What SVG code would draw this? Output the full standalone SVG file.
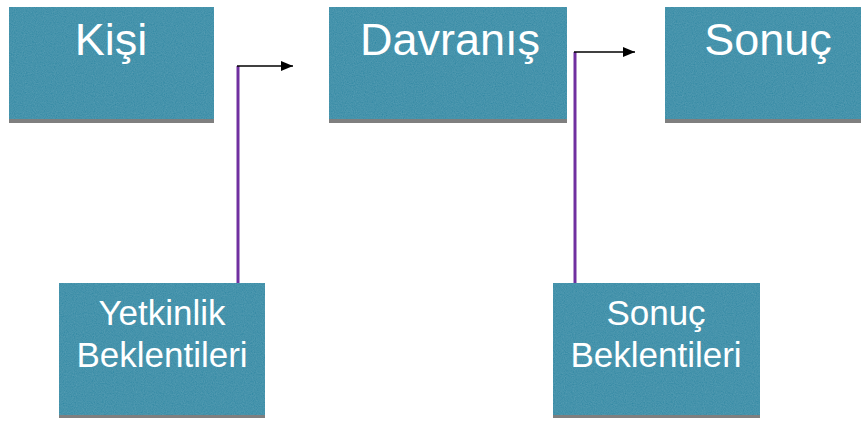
<svg xmlns="http://www.w3.org/2000/svg" width="861" height="421" viewBox="0 0 861 421">
<style>
.box{fill:#2f87a3;filter:url(#tex)}
.sh{fill:#7f7f7f}
.t{font-family:"Liberation Sans",Arial,sans-serif;fill:#ffffff;text-anchor:middle}
.big{font-size:45px}
.small{font-size:35px}
.purple{stroke:#7030a0;stroke-width:3;fill:none}
.arr{stroke:#000;stroke-width:1.5;fill:none;marker-end:url(#ah)}
</style>
<defs>
<filter id="tex" x="0" y="0" width="1" height="1">
<feTurbulence type="fractalNoise" baseFrequency="0.9" numOctaves="2" seed="3" result="n"/>
<feColorMatrix in="n" type="matrix" values="0 0 0 0 0.26  0 0 0 0 0.58  0 0 0 0 0.68  0 0 0 0.3 0" result="c"/>
<feComposite in="c" in2="SourceGraphic" operator="in" result="m"/>
<feMerge><feMergeNode in="SourceGraphic"/><feMergeNode in="m"/></feMerge>
</filter>
<marker id="ah" markerWidth="12" markerHeight="10" refX="12" refY="5" orient="auto" markerUnits="userSpaceOnUse">
<path d="M0,0 L12,5 L0,10 Z" fill="#000"/>
</marker>
</defs>
<g id="connectors">
<line class="purple" x1="238" y1="66" x2="238" y2="284"/>
<line class="arr" x1="237" y1="66" x2="293" y2="66"/>
<line class="purple" x1="575" y1="52" x2="575" y2="284"/>
<line class="arr" x1="574" y1="52" x2="635" y2="52"/>
</g>
<g id="kisi">
<rect class="sh" x="9" y="10" width="205" height="113"/>
<rect class="box" x="9" y="7" width="205" height="112"/>
<text class="t big" x="111" y="55">Kişi</text>
</g>
<g id="davranis">
<rect class="sh" x="329" y="10" width="238" height="113"/>
<rect class="box" x="329" y="7" width="238" height="112"/>
<text class="t big" x="450" y="55">Davranış</text>
</g>
<g id="sonuc">
<rect class="sh" x="665" y="10" width="206" height="113"/>
<rect class="box" x="665" y="7" width="206" height="112"/>
<text class="t big" x="768" y="55">Sonuç</text>
</g>
<g id="yetkinlik">
<rect class="sh" x="59" y="286" width="206" height="132"/>
<rect class="box" x="59" y="283" width="206" height="132"/>
<text class="t small" x="162" y="325">Yetkinlik</text>
<text class="t small" x="162" y="367">Beklentileri</text>
</g>
<g id="sonuc-beklentileri">
<rect class="sh" x="553" y="286" width="207" height="132"/>
<rect class="box" x="553" y="283" width="207" height="132"/>
<text class="t small" x="656" y="325">Sonuç</text>
<text class="t small" x="656" y="367">Beklentileri</text>
</g>
</svg>
